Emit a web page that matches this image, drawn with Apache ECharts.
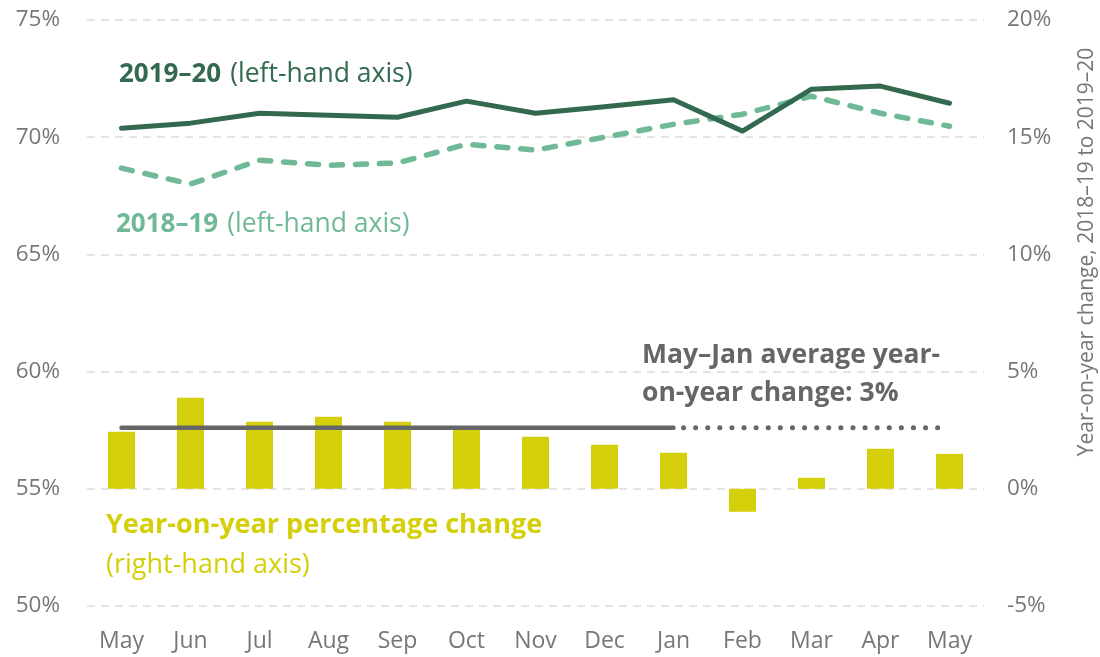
<!DOCTYPE html>
<html>
<head>
<meta charset="utf-8">
<script src="https://cdn.jsdelivr.net/npm/echarts@6/dist/echarts.min.js"></script>
<style>
  html, body { margin: 0; padding: 0; background: #fff; }
  #box { width: 1100px; height: 657px; }
</style>
</head>
<body>
<div id="box"></div>
<script>
// data
var months = ['May', 'Jun', 'Jul', 'Aug', 'Sep', 'Oct', 'Nov', 'Dec', 'Jan', 'Feb', 'Mar', 'Apr', 'May'];
var rate1920 = [70.38, 70.6, 71.02, 70.94, 70.85, 71.54, 71.02, 71.3, 71.6, 70.26, 72.05, 72.18, 71.45];
var rate1819 = [68.68, 68.0, 69.02, 68.8, 68.9, 69.7, 69.45, 70.0, 70.55, 70.98, 71.75, 71.02, 70.47];
var yoyChange = [2.43, 3.88, 2.86, 3.07, 2.86, 2.52, 2.22, 1.88, 1.54, -0.98, 0.47, 1.71, 1.49];
var avgMayJan = 2.6;
var avgSolid = [avgMayJan, avgMayJan, avgMayJan, avgMayJan, avgMayJan, avgMayJan, avgMayJan, avgMayJan, avgMayJan, '-', '-', '-', '-'];
var avgDotted = ['-', '-', '-', '-', '-', '-', '-', '-', avgMayJan, avgMayJan, avgMayJan, avgMayJan, avgMayJan];

var FONT = '"Open Sans", "Noto Sans", sans-serif';
var dark = '#33694f', light = '#70b996', bar = '#d4cf0a', grey = '#666666', axisGrey = '#777777';

var myChart = echarts.init(document.getElementById('box'));
var option = {
  animation: false,
  grid: { left: 87, right: 116, top: 20, bottom: 51 },
  xAxis: {
    type: 'category',
    data: months,
    boundaryGap: true,
    axisLine: { show: false },
    axisTick: { show: false },
    axisLabel: { color: axisGrey, fontFamily: FONT, fontSize: 23, margin: 24 }
  },
  yAxis: [
    {
      type: 'value', min: 50, max: 75, interval: 5,
      axisLine: { show: false }, axisTick: { show: false },
      axisLabel: { color: axisGrey, fontFamily: FONT, fontSize: 22.5, margin: 27, formatter: '{value}%' },
      splitLine: { lineStyle: { color: '#dcdcdc', width: 1.5, type: [8, 6] } }
    },
    {
      type: 'value', min: -5, max: 20, interval: 5,
      axisLine: { show: false }, axisTick: { show: false },
      axisLabel: { color: axisGrey, fontFamily: FONT, fontSize: 22.5, margin: 23, formatter: '{value}%' },
      splitLine: { show: false }
    }
  ],
  series: [
    {
      name: 'yoy', type: 'bar', yAxisIndex: 1, data: yoyChange,
      barWidth: 27, itemStyle: { color: bar }
    },
    {
      name: 'avg', type: 'line', yAxisIndex: 1, data: avgSolid,
      symbol: 'none', lineStyle: { color: grey, width: 4.5, cap: 'round' }
    },
    {
      name: 'avgDots', type: 'line', yAxisIndex: 1, data: avgDotted,
      symbol: 'none', lineStyle: { color: grey, width: 5, cap: 'round', type: [0.1, 12], dashOffset: -10 }
    },
    {
      name: '2018–19', type: 'line', data: rate1819,
      symbol: 'none', lineStyle: { color: light, width: 5.5, cap: 'round', type: [11, 13] }
    },
    {
      name: '2019–20', type: 'line', data: rate1920,
      symbol: 'none', lineStyle: { color: dark, width: 5, cap: 'round', join: 'round' }
    }
  ],
  graphic: [
    {
      type: 'text', left: 119, top: 61,
      style: {
        text: '{b|2019–20}{n|(left-hand axis)}',
        rich: {
          b: { fontFamily: FONT, fontSize: 26, fontWeight: 'bold', fill: dark, padding: [0, 9, 0, 0] },
          n: { fontFamily: FONT, fontSize: 26.5, fill: dark }
        }
      }
    },
    {
      type: 'text', left: 116, top: 211,
      style: {
        text: '{b|2018–19}{n|(left-hand axis)}',
        rich: {
          b: { fontFamily: FONT, fontSize: 26, fontWeight: 'bold', fill: light, padding: [0, 9, 0, 0] },
          n: { fontFamily: FONT, fontSize: 26.5, fill: light }
        }
      }
    },
    {
      type: 'text', left: 642, top: 336,
      style: {
        text: 'May–Jan average year-\non-year change: 3%',
        fontFamily: FONT, fontSize: 26.5, fontWeight: 'bold', fill: grey, lineHeight: 38
      }
    },
    {
      type: 'text', left: 106, top: 512,
      style: {
        text: '{b|Year-on-year percentage change}\n{n|(right-hand axis)}',
        rich: {
          b: { fontFamily: FONT, fontSize: 27, fontWeight: 'bold', fill: bar, lineHeight: 40 },
          n: { fontFamily: FONT, fontSize: 27, fill: bar, lineHeight: 40 }
        }
      }
    },
    {
      type: 'text', x: 1087, y: 252, rotation: Math.PI / 2,
      style: {
        text: 'Year-on-year change, 2018–19 to 2019–20',
        fontFamily: FONT, fontSize: 21, fill: axisGrey,
        align: 'center', verticalAlign: 'middle'
      }
    }
  ]
};
myChart.setOption(option);
</script>
</body>
</html>
